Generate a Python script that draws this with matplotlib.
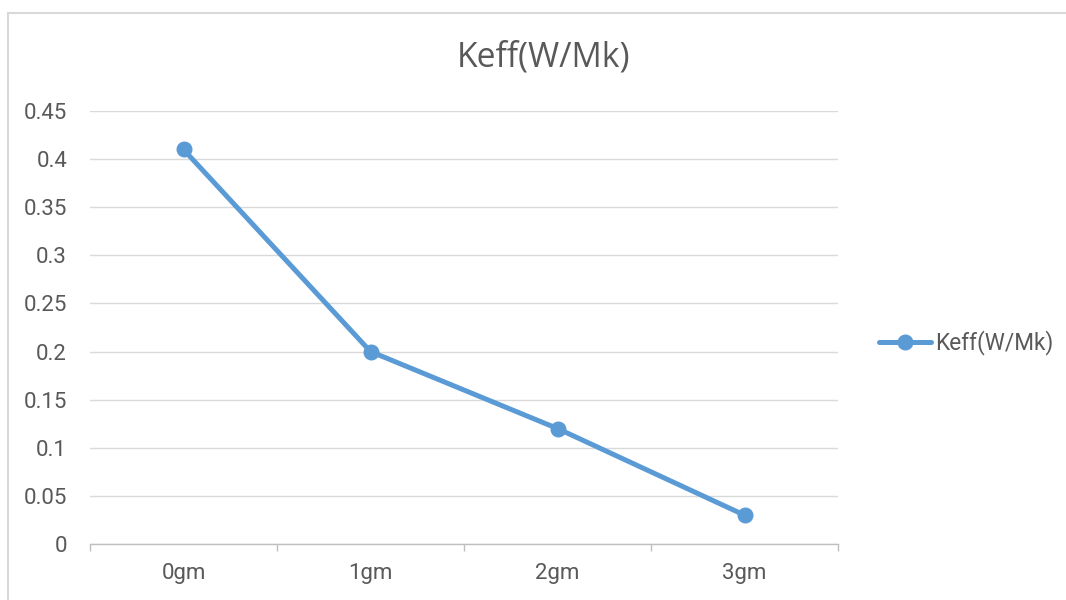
import matplotlib
matplotlib.use("Agg")
import matplotlib.pyplot as plt
from matplotlib.lines import Line2D

categories = ["0gm", "1gm", "2gm", "3gm"]
keff = [0.41, 0.20, 0.12, 0.03]
yticks = [0, 0.05, 0.1, 0.15, 0.2, 0.25, 0.3, 0.35, 0.4, 0.45]
ytick_labels = ["0", "0.05", "0.1", "0.15", "0.2", "0.25", "0.3", "0.35", "0.4", "0.45"]
series_name = "Keff(W/Mk)"
title = "Keff(W/Mk)"

W, H = 1066, 600
fig = plt.figure(figsize=(W / 100, H / 100), dpi=100)
ax = fig.add_axes([90 / W, 1 - 544 / H, (838 - 90) / W, (544 - 111) / H])

text_color = "#595959"
line_color = "#5B9BD5"
LW, MS = 3.6, 10.5

x = list(range(len(categories)))
ax.plot(x, keff, color=line_color, lw=LW, marker="o", ms=MS,
        solid_capstyle="round", label=series_name, zorder=3)

ax.set_xlim(-0.5, len(categories) - 0.5)
ax.set_ylim(0, 0.45)
ax.set_yticks(yticks)
ax.set_yticklabels(ytick_labels)
ax.set_xticks(x)
ax.set_xticklabels(categories)
ax.set_xticks([i - 0.5 for i in range(len(categories) + 1)], minor=True)

ax.grid(axis="y", color="#D9D9D9", lw=1.0)
ax.set_axisbelow(True)
for s in ["top", "right", "left"]:
    ax.spines[s].set_visible(False)
ax.spines["bottom"].set_color("#BFBFBF")
ax.spines["bottom"].set_linewidth(1.0)

ax.tick_params(axis="y", length=0, pad=16.5, labelsize=16, labelcolor=text_color)
ax.tick_params(axis="x", which="major", length=0, pad=14, labelsize=16, labelcolor=text_color)
ax.tick_params(axis="x", which="minor", length=5, width=1.0, color="#BFBFBF")
for lab in ax.get_xticklabels() + ax.get_yticklabels():
    lab.set_family("Roboto")

fig.text(544 / W, 1 - 57 / H, title, ha="center", va="center",
         fontsize=24.3, color=text_color, family="Open Sans")

handle = Line2D([0], [0], color=line_color, lw=LW, marker="o", ms=MS,
                solid_capstyle="round")
leg = fig.legend([handle], [series_name], loc="center left",
                 bbox_to_anchor=(879 / W, 1 - 343 / H), bbox_transform=fig.transFigure,
                 frameon=False, borderpad=0, borderaxespad=0,
                 handlelength=2.3, handletextpad=0.2,
                 prop={"family": "Roboto", "size": 16.3})
for t in leg.get_texts():
    t.set_color(text_color)

# chart border
fig.add_artist(Line2D([8 / W, 8 / W], [-0.01, 1 - 13 / H], transform=fig.transFigure,
                      color="#D9D9D9", lw=1.5))
fig.add_artist(Line2D([8 / W, 1.01], [1 - 13 / H, 1 - 13 / H], transform=fig.transFigure,
                      color="#D9D9D9", lw=1.5))

fig.savefig("out.png", dpi=100, facecolor="white")
